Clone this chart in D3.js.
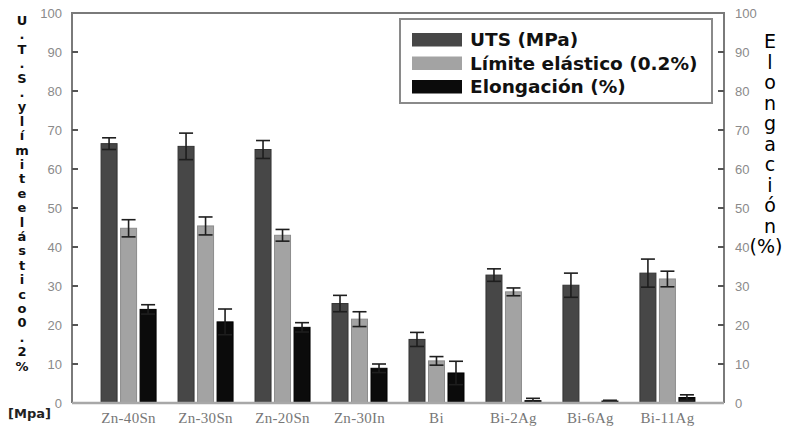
<!DOCTYPE html>
<html lang="es">
<head>
  <meta charset="UTF-8">
  <title>propiedades-mecanicas</title>
  <script type="text/javascript" src="https://cdn.jsdelivr.net/npm/d3@7"></script>
  <style>
    body { margin: 0; background: #fff; }
  </style>
</head>
<body>
<div id="chart"></div>
<script type="text/javascript">
    let categories = ["Zn-40Sn", "Zn-30Sn", "Zn-20Sn", "Zn-30In", "Bi", "Bi-2Ag", "Bi-6Ag", "Bi-11Ag"];
    let seriesNames = ["UTS (MPa)", "Límite elástico (0.2%)", "Elongación (%)"];
    let utsValues = [66.5, 65.8, 65.0, 25.5, 16.3, 32.8, 30.2, 33.3];
    let utsErrors = [1.5, 3.4, 2.3, 2.1, 1.8, 1.6, 3.1, 3.6];
    let yieldValues = [44.8, 45.4, 43.0, 21.5, 10.8, 28.5, null, 31.8];
    let yieldErrors = [2.2, 2.3, 1.5, 1.9, 1.1, 1.0, null, 2.0];
    let elongValues = [24.0, 20.8, 19.4, 8.9, 7.7, 0.6, 0.5, 1.4];
    let elongErrors = [1.2, 3.3, 1.2, 1.1, 3.0, 0.6, 0.2, 0.7];
    let yTicks = [0, 10, 20, 30, 40, 50, 60, 70, 80, 90, 100];
    let leftTitle = "U.T.S.ylímiteelástico0.2%";
    let rightTitle = ["E", "l", "o", "n", "g", "a", "c", "i", "ó", "n", "(%)"];

    let width = 787, height = 430;
    let plotLeft = 72, plotRight = 724, plotTop = 13, plotBottom = 403;
    let colors = ["#474747", "#a3a3a3", "#0b0b0b"];
    let strokes = ["#333333", "#8c8c8c", "#000000"];

    let svg = d3.select("#chart").append("svg")
        .attr("width", width).attr("height", height)
        .style("font-family", "'DejaVu Sans', Verdana, sans-serif");

    let x0 = d3.scaleBand().domain(categories).range([plotLeft, plotRight]).paddingOuter(0.235).paddingInner(0);
    let x1 = d3.scaleBand().domain(seriesNames).range([-27.5, 27.5]).paddingInner(0.18);
    let yLeft = d3.scaleLinear().domain([0, 100]).range([plotBottom, plotTop]);
    let yRight = d3.scaleLinear().domain([0, 100]).range([plotBottom, plotTop]);

    // rows for bars
    let rows = [];
    categories.forEach(function (c, i) {
        [utsValues, yieldValues, elongValues].forEach(function (vals, s) {
            let errs = [utsErrors, yieldErrors, elongErrors][s];
            if (vals[i] !== null) {
                rows.push({cat: c, s: s, v: vals[i], e: errs[i]});
            }
        });
    });

    let yFor = function (d) { return d.s === 2 ? yRight : yLeft; };

    // bars
    svg.append("g").selectAll("rect").data(rows).enter().append("rect")
        .attr("x", d => x0(d.cat) + x0.bandwidth() / 2 + x1(seriesNames[d.s]))
        .attr("y", d => yFor(d)(d.v))
        .attr("width", x1.bandwidth())
        .attr("height", d => yFor(d)(0) - yFor(d)(d.v))
        .attr("fill", d => colors[d.s])
        .attr("stroke", d => strokes[d.s])
        .attr("stroke-width", 1);

    // error bars
    let eb = svg.append("g").attr("stroke", "#1e1e1e").attr("stroke-width", 1.6);
    rows.forEach(function (d) {
        let cx = x0(d.cat) + x0.bandwidth() / 2 + x1(seriesNames[d.s]) + x1.bandwidth() / 2;
        let y = yFor(d);
        let hi = y(d.v + d.e), lo = y(Math.max(0, d.v - d.e));
        eb.append("line").attr("x1", cx).attr("x2", cx).attr("y1", hi).attr("y2", lo);
        eb.append("line").attr("x1", cx - 7).attr("x2", cx + 7).attr("y1", hi).attr("y2", hi);
        eb.append("line").attr("x1", cx - 7).attr("x2", cx + 7).attr("y1", lo).attr("y2", lo);
    });

    // frame
    svg.append("path")
        .attr("d", "M" + plotLeft + "," + plotBottom + "V" + plotTop + "H" + plotRight + "V" + plotBottom)
        .attr("fill", "none").attr("stroke", "#7a7a7a").attr("stroke-width", 2);
    svg.append("line").attr("x1", plotLeft).attr("x2", plotRight).attr("y1", plotBottom).attr("y2", plotBottom)
        .attr("stroke", "#a8a8a8").attr("stroke-width", 2.5);

    // left axis
    let axisL = svg.append("g").attr("transform", "translate(" + plotLeft + ",0)")
        .call(d3.axisLeft(yLeft).tickValues(yTicks).tickSize(0).tickPadding(10));
    axisL.select(".domain").remove();
    axisL.selectAll("text").attr("fill", "#8a8a8a").style("font-family", "'Liberation Sans', Arial, sans-serif").style("font-size", "13px");
    svg.append("g").selectAll("line").data(yTicks.slice(1, -1)).enter().append("line")
        .attr("x1", plotLeft).attr("x2", plotLeft + 6).attr("y1", d => yLeft(d)).attr("y2", d => yLeft(d))
        .attr("stroke", "#555").attr("stroke-width", 2);

    // right axis
    let axisR = svg.append("g").attr("transform", "translate(" + plotRight + ",0)")
        .call(d3.axisRight(yRight).tickValues(yTicks).tickSize(0).tickPadding(11));
    axisR.select(".domain").remove();
    axisR.selectAll("text").attr("fill", "#8a8a8a").style("font-family", "'Liberation Sans', Arial, sans-serif").style("font-size", "13px");
    svg.append("g").selectAll("line").data(yTicks.slice(1, -1)).enter().append("line")
        .attr("x1", plotRight - 6).attr("x2", plotRight).attr("y1", d => yRight(d)).attr("y2", d => yRight(d))
        .attr("stroke", "#555").attr("stroke-width", 2);

    // x labels
    let axisB = svg.append("g").attr("transform", "translate(0," + plotBottom + ")")
        .call(d3.axisBottom(x0).tickSize(0).tickPadding(9));
    axisB.select(".domain").remove();
    axisB.selectAll("text").attr("fill", "#777")
        .style("font-family", "'Liberation Serif', 'Times New Roman', serif").style("font-size", "15px")
        .style("letter-spacing", "0.3px");

    // left title, one char per line
    svg.append("g").selectAll("text").data(leftTitle.split("")).enter().append("text")
        .attr("x", 22).attr("y", (d, i) => 25 + i * 14.4)
        .attr("text-anchor", "middle").style("font-size", "13px").style("font-weight", "bold")
        .attr("fill", "#111").text(d => d);
    svg.append("text").attr("x", 8).attr("y", 418).style("font-size", "13px").style("font-weight", "bold")
        .attr("fill", "#222").text("[Mpa]");

    // right title
    svg.append("g").selectAll("text").data(rightTitle).enter().append("text")
        .attr("x", (d, i) => i === rightTitle.length - 1 ? 766 : 770).attr("y", (d, i) => 48 + i * 20.5)
        .attr("text-anchor", "middle").style("font-size", "19px")
        .attr("fill", "#000").text(d => d);

    // legend
    let legend = svg.append("g");
    legend.append("rect").attr("x", 400).attr("y", 19).attr("width", 312).attr("height", 84)
        .attr("fill", "#fff").attr("stroke", "#8a8a8a").attr("stroke-width", 2);
    seriesNames.forEach(function (name, i) {
        legend.append("rect").attr("x", 412).attr("y", 33 + i * 23.5).attr("width", 50).attr("height", 13.5)
            .attr("fill", colors[i]);
        legend.append("text").attr("x", 470).attr("y", 46 + i * 23.5)
            .style("font-size", "18.5px").style("font-weight", "bold").attr("fill", "#111").text(name);
    });
</script>
</body>
</html>
